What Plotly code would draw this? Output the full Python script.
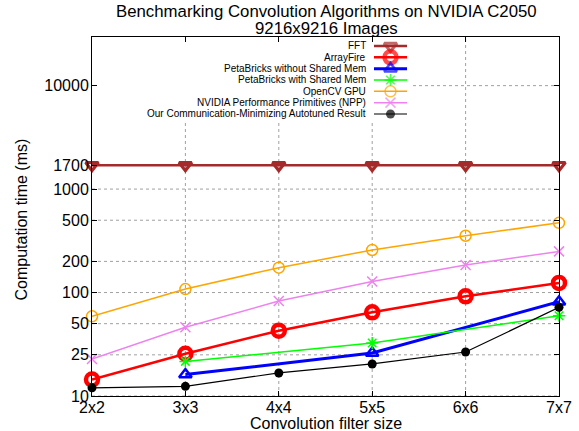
import math
import plotly.graph_objects as go

# ---------------- data ----------------
sizes = ["2x2", "3x3", "4x4", "5x5", "6x6", "7x7"]
pb_sizes = ["3x3", "5x5", "7x7"]

fft = [1700, 1700, 1700, 1700, 1700, 1700]
arrayfire = [14.4, 25.6, 42.8, 64.4, 91.9, 124]
pb_without = [16.1, 26.0, 81.5]
pb_with = [21.6, 32.5, 59.7]
opencv = [58.9, 108, 174, 258, 354, 472]
npp = [22.8, 46.1, 82.8, 128, 184.5, 250]
ours = [12.0, 12.4, 16.7, 20.4, 26.6, 71.9]

y_ticks = [10, 25, 50, 100, 200, 500, 1000, 1700, 10000]

names = ["FFT", "ArrayFire", "PetaBricks without Shared Mem",
         "PetaBricks with Shared Mem", "OpenCV GPU",
         "NVIDIA Performance Primitives (NPP)",
         "Our Communication-Minimizing Autotuned Result"]

# ---------------- styles ----------------
styles = [
    dict(color="#a52a2a", lw=2.5, sym="triangle-down-open", ms=11, mlw=3.2),
    dict(color="#ff0000", lw=2.5, sym="circle-open", ms=12, mlw=4.5),
    dict(color="#0000ff", lw=3.0, sym="triangle-up-open", ms=11, mlw=2.5),
    dict(color="#00ff00", lw=1.5, sym="asterisk-open", ms=10, mlw=1.5),
    dict(color="#ffa500", lw=1.5, sym="circle-open", ms=11, mlw=1.5),
    dict(color="#ee82ee", lw=1.5, sym="x-thin-open", ms=10, mlw=1.5),
    dict(color="#000000", lw=1.2, sym="circle", ms=9, mlw=0),
]

series = [
    (sizes, fft), (sizes, arrayfire), (pb_sizes, pb_without),
    (pb_sizes, pb_with), (sizes, opencv), (sizes, npp), (sizes, ours),
]

W, H = 579, 431
L, R, T, B = 92, 20, 37, 35
FONT = "Liberation Sans, Arial, Helvetica, sans-serif"
PW, PH = W - L - R, H - T - B
XR = [0, len(sizes) - 1]
YR = [1, 4.47]
KEY_RIGHT, KEY_BOTTOM = 413, 120  # key box (pixels)


def px_x(p):  # pixel x -> paper fraction
    return (p - L) / PW


def px_y(p):  # pixel y -> paper fraction
    return (H - B - p) / PH


def data_x(p):  # pixel x -> x data value
    return XR[0] + px_x(p) * (XR[1] - XR[0])


def data_y(p):  # pixel y -> y data value (log axis)
    return 10 ** (YR[0] + px_y(p) * (YR[1] - YR[0]))


def dom_x(v):
    return (v - XR[0]) / (XR[1] - XR[0])


def dom_y(v):
    return (math.log10(v) - YR[0]) / (YR[1] - YR[0])


fig = go.Figure()

# ---------------- dotted grid (interrupted by the key box) ----------------
gline = dict(color="#a0a0a0", width=1, dash="dot")
for v in y_ticks:
    yd = dom_y(v)
    x0 = px_x(KEY_RIGHT) if yd > px_y(KEY_BOTTOM) else 0
    fig.add_shape(type="line", xref="x domain", yref="y domain",
                  x0=x0, x1=1, y0=yd, y1=yd, line=gline, layer="below")
for i in range(1, len(sizes) - 1):
    xd = dom_x(i)
    y1 = px_y(KEY_BOTTOM) if xd < px_x(KEY_RIGHT) else 1
    fig.add_shape(type="line", xref="x domain", yref="y domain",
                  x0=xd, x1=xd, y0=0, y1=y1, line=gline, layer="below")

for (xs, ys), nm, st in zip(series, names, styles):
    fig.add_trace(go.Scatter(
        x=[sizes.index(s) for s in xs], y=ys, name=nm, mode="lines+markers",
        line=dict(color=st["color"], width=st["lw"]),
        marker=dict(symbol=st["sym"], size=st["ms"], color=st["color"],
                    line=dict(width=st["mlw"], color=st["color"])),
        showlegend=False, cliponaxis=False,
    ))

# ---------------- gnuplot-style key (right-aligned text, sample on right) ----
row0, drow = 46.0, 11.33
text_right = 368
samp_x0, samp_x1, samp_mid = 374, 407, 390.5
for i, (nm, st) in enumerate(zip(names, styles)):
    ry = row0 + i * drow
    fig.add_trace(go.Scatter(
        x=[data_x(samp_x0), data_x(samp_mid), data_x(samp_x1)],
        y=[data_y(ry)] * 3, mode="lines+markers",
        line=dict(color=st["color"], width=st["lw"]),
        marker=dict(symbol=st["sym"], size=[0, st["ms"], 0], color=st["color"],
                    line=dict(width=st["mlw"], color=st["color"])),
        showlegend=False, hoverinfo="skip", cliponaxis=False,
    ))
    fig.add_annotation(x=px_x(text_right), y=px_y(ry), xref="paper",
                       yref="paper", text=nm, showarrow=False,
                       xanchor="right", yanchor="middle",
                       font=dict(size=10, color="black", family=FONT))


# ---------------- titles ----------------
def label(x, y, text, size, angle=0):
    fig.add_annotation(x=px_x(x), y=px_y(y), xref="paper", yref="paper",
                       text=text, showarrow=False, textangle=angle,
                       xanchor="center", yanchor="middle",
                       font=dict(size=size, color="black", family=FONT))


label(326, 12, "Benchmarking Convolution Algorithms on NVIDIA C2050", 16.8)
label(326, 28.5, "9216x9216 Images", 16.8)
label(325.5, 423, "Convolution filter size", 16)
label(20.5, 220, "Computation time (ms)", 16, -90)

fig.update_layout(
    width=W, height=H,
    margin=dict(l=L, r=R, t=T, b=B, autoexpand=False),
    paper_bgcolor="white", plot_bgcolor="white",
    font=dict(family=FONT, size=16, color="black"),
    showlegend=False,
    xaxis=dict(range=XR, tickvals=list(range(len(sizes))), ticktext=sizes,
               ticks="inside", ticklen=5, tickcolor="black", showgrid=False,
               showline=True, linecolor="black", linewidth=1, mirror="ticks",
               zeroline=False, tickfont=dict(size=16), automargin=False,
               ticklabelstandoff=-3),
    yaxis=dict(type="log", range=YR, tickvals=y_ticks,
               ticktext=[str(v) for v in y_ticks], showgrid=False,
               ticks="inside", ticklen=5, tickcolor="black",
               showline=True, linecolor="black", linewidth=1, mirror="ticks",
               zeroline=False, tickfont=dict(size=16), automargin=False,
               ticklabelstandoff=-1),
)

fig.write_html("out.html", config={"displayModeBar": False},
               post_script="document.body.style.margin='0';")
